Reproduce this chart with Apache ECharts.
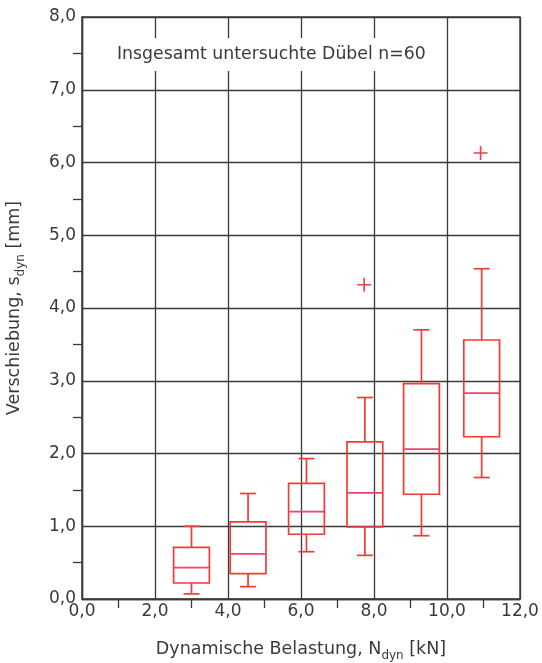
<!DOCTYPE html>
<html>
<head>
<meta charset="utf-8">
<script src="https://cdn.jsdelivr.net/npm/echarts@6/dist/echarts.min.js"></script>
<style>
html,body{margin:0;padding:0;background:#fff;}
#chart{width:542px;height:663px;}
</style>
</head>
<body>
<div id="chart"></div>
<script>
// Box positions on the load axis (kN)
const positions = [3.0, 4.55, 6.15, 7.75, 9.3, 10.95];
// Whisker minimum, lower quartile, median, upper quartile, whisker maximum (mm)
const mins    = [0.07, 0.17, 0.65, 0.60, 0.87, 1.67];
const q1      = [0.22, 0.35, 0.89, 0.99, 1.44, 2.23];
const medians = [0.43, 0.62, 1.20, 1.46, 2.06, 2.83];
const q3      = [0.71, 1.06, 1.59, 2.16, 2.96, 3.56];
const maxs    = [1.00, 1.45, 1.93, 2.77, 3.70, 4.54];
// Outliers [x, y]
const outlierX = [7.73, 10.92];
const outlierY = [4.32, 6.13];
// Tick labels
const xTickLabels = ['0,0', '2,0', '4,0', '6,0', '8,0', '10,0', '12,0'];
const yTickLabels = ['0,0', '1,0', '2,0', '3,0', '4,0', '5,0', '6,0', '7,0', '8,0'];
const noteText = 'Insgesamt untersuchte Dübel n=60';

const FONT = '"DejaVu Sans", Verdana, sans-serif';
const TEXT_COLOR = '#3a3a3a';
const BOX_COLOR = '#f03c36';
const MED_COLOR = '#f3416a';
const GRID_COLOR = '#3a3a3a';

const boxData = positions.map((p, i) => [p, mins[i], q1[i], medians[i], q3[i], maxs[i]]);
const outlierData = outlierX.map((x, i) => [x, outlierY[i]]);

const chart = echarts.init(document.getElementById('chart'), null, {renderer: 'canvas'});

function renderBox(params, api) {
  const x = api.value(0);
  const vMin = api.value(1), vQ1 = api.value(2), vMed = api.value(3), vQ3 = api.value(4), vMax = api.value(5);
  const unit = api.size([1, 0])[0];
  const half = unit * 0.49;
  const capHalf = unit * 0.22;
  const pMin = api.coord([x, vMin]);
  const pQ1 = api.coord([x, vQ1]);
  const pMed = api.coord([x, vMed]);
  const pQ3 = api.coord([x, vQ3]);
  const pMax = api.coord([x, vMax]);
  const cx = pMin[0];
  const lineStyle = {stroke: BOX_COLOR, lineWidth: 1.7, fill: null};
  return {
    type: 'group',
    children: [
      {type: 'line', shape: {x1: cx, y1: pMax[1], x2: cx, y2: pQ3[1]}, style: lineStyle},
      {type: 'line', shape: {x1: cx - capHalf, y1: pMax[1], x2: cx + capHalf, y2: pMax[1]}, style: lineStyle},
      {type: 'line', shape: {x1: cx, y1: pMin[1], x2: cx, y2: pQ1[1]}, style: lineStyle},
      {type: 'line', shape: {x1: cx - capHalf, y1: pMin[1], x2: cx + capHalf, y2: pMin[1]}, style: lineStyle},
      {type: 'rect', shape: {x: cx - half, y: pQ3[1], width: half * 2, height: pQ1[1] - pQ3[1]},
        style: {stroke: BOX_COLOR, lineWidth: 1.7, fill: 'rgba(255,255,255,0)'}},
      {type: 'line', shape: {x1: cx - half, y1: pMed[1], x2: cx + half, y2: pMed[1]},
        style: {stroke: MED_COLOR, lineWidth: 1.7}}
    ]
  };
}

const richName = {
  a: {fontSize: 17.5, fontFamily: FONT, color: TEXT_COLOR, verticalAlign: 'middle', lineHeight: 21},
  s: {fontSize: 12, fontFamily: FONT, color: TEXT_COLOR, verticalAlign: 'bottom', lineHeight: 13, padding: [0, 0, -2, 0]}
};

const option = {
  backgroundColor: '#fff',
  animation: false,
  title: {
    text: noteText,
    left: 104,
    top: 38,
    padding: [8, 13],
    backgroundColor: '#fff',
    textStyle: {fontFamily: FONT, fontSize: 17.3, fontWeight: 'normal', color: TEXT_COLOR}
  },
  grid: {
    left: 82, right: 22, top: 17, bottom: 64,
    containLabel: false,
    outerBoundsMode: 'none',
    show: true, borderColor: GRID_COLOR, borderWidth: 1.4, backgroundColor: 'transparent'
  },
  xAxis: {
    type: 'value', min: 0, max: 12, interval: 2,
    name: '{a|Dynamische Belastung, N}{s|dyn}{a| [kN]}',
    nameLocation: 'middle', nameGap: 40,
    nameTextStyle: {color: TEXT_COLOR, fontFamily: FONT, rich: richName},
    axisLine: {show: true, lineStyle: {color: GRID_COLOR, width: 1.4}},
    axisTick: {show: false},
    minorTick: {show: true, splitNumber: 2, length: 9, lineStyle: {color: GRID_COLOR, width: 1.3}},
    splitLine: {show: true, lineStyle: {color: GRID_COLOR, width: 1.3}},
    axisLabel: {
      color: TEXT_COLOR, fontFamily: FONT, fontSize: 17, margin: 4,
      formatter: (v) => xTickLabels[Math.round(v / 2)] || ''
    }
  },
  yAxis: {
    type: 'value', min: 0, max: 8, interval: 1,
    name: '{a|Verschiebung, s}{s|dyn}{a| [mm]}',
    nameLocation: 'middle', nameGap: 57, nameRotate: 90,
    nameTextStyle: {color: TEXT_COLOR, fontFamily: FONT, rich: richName},
    axisLine: {show: true, lineStyle: {color: GRID_COLOR, width: 1.4}},
    axisTick: {show: false},
    minorTick: {show: true, splitNumber: 2, length: 9, lineStyle: {color: GRID_COLOR, width: 1.3}},
    splitLine: {show: true, lineStyle: {color: GRID_COLOR, width: 1.3}},
    axisLabel: {
      color: TEXT_COLOR, fontFamily: FONT, fontSize: 17, margin: 6,
      formatter: (v) => yTickLabels[Math.round(v)] || ''
    }
  },
  series: [
    {
      type: 'custom',
      renderItem: renderBox,
      data: boxData,
      encode: {x: 0, y: [1, 2, 3, 4, 5]},
      z: 5
    },
    {
      type: 'scatter',
      data: outlierData,
      symbol: 'path://M6.2,0H7.8V6.2H14V7.8H7.8V14H6.2V7.8H0V6.2H6.2Z',
      symbolSize: 14,
      itemStyle: {color: '#ee3c50', opacity: 1},
      z: 5
    }
  ]
};
chart.setOption(option);
</script>
</body>
</html>
